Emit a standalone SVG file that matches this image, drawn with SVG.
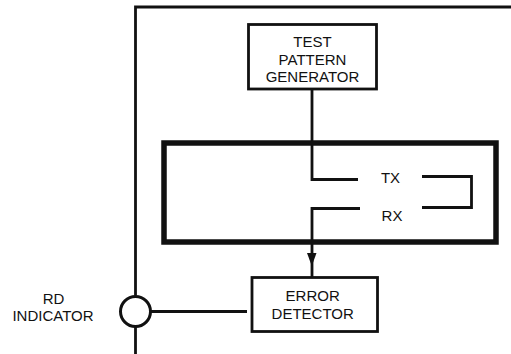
<svg xmlns="http://www.w3.org/2000/svg" width="511" height="354" viewBox="0 0 511 354">
<style>
.ln{fill:none;stroke:#111;stroke-width:2.8;stroke-linecap:butt;stroke-linejoin:miter}
.box{fill:#fff;stroke:#111;stroke-width:2.8}
.t{font-family:"Liberation Sans",Arial,sans-serif;font-size:15px;fill:#111;text-anchor:middle}
</style>
<rect width="511" height="354" fill="#fff"/>
<g id="connectors">
  <path class="ln" d="M135.5,354 V326.5 M135.5,295.5 V7 H511"/>
  <path class="ln" d="M312,89 V179.5 H358"/>
  <path class="ln" d="M422,176.5 H471.5 V207.5 H422"/>
  <path class="ln" d="M360,208.5 H312 V277"/>
  <polygon points="307,253 316.5,253 311.8,266" fill="#111"/>
  <path class="ln" d="M150.5,311.5 H247"/>
</g>
<g id="frame">
  <rect x="164" y="143" width="332" height="99" fill="none" stroke="#111" stroke-width="5.5"/>
</g>
<g id="test-pattern-generator">
  <rect class="box" x="248.5" y="24.5" width="128" height="64.5"/>
  <text class="t" x="312.5" y="47">TEST</text>
  <text class="t" x="312.5" y="64.5">PATTERN</text>
  <text class="t" x="312.5" y="82">GENERATOR</text>
</g>
<g id="tx">
  <text class="t" x="390.5" y="182.5">TX</text>
</g>
<g id="rx">
  <text class="t" x="392" y="220.7">RX</text>
</g>
<g id="error-detector">
  <rect class="box" x="252" y="277.5" width="125.5" height="54"/>
  <text class="t" x="312.7" y="301">ERROR</text>
  <text class="t" x="312.7" y="319.3">DETECTOR</text>
</g>
<g id="rd-indicator">
  <circle cx="135.5" cy="311.5" r="15" fill="#fff" stroke="#111" stroke-width="3"/>
  <text class="t" x="53.5" y="303.5">RD</text>
  <text class="t" x="53" y="321">INDICATOR</text>
</g>
</svg>
